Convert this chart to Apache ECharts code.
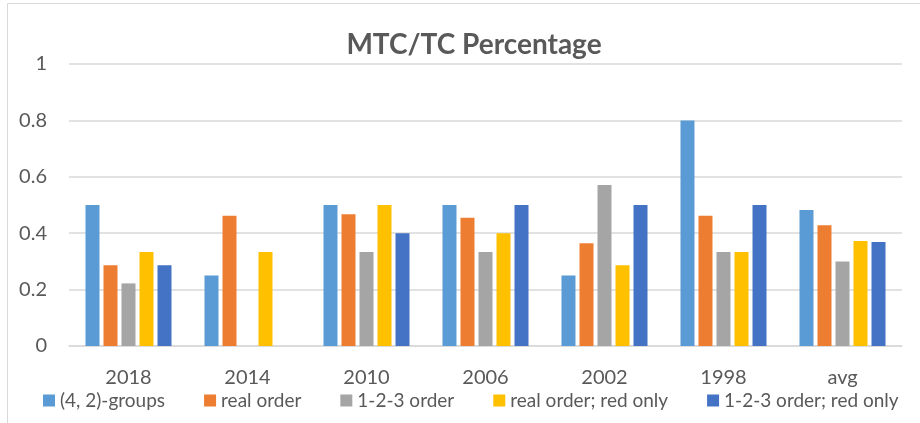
<!DOCTYPE html>
<html>
<head>
<meta charset="utf-8">
<script src="https://cdn.jsdelivr.net/npm/echarts@6/dist/echarts.min.js"></script>
<style>
html,body{margin:0;padding:0;background:#fff;}
#c{width:920px;height:423px;}
</style>
</head>
<body>
<div id="c"></div>
<script>
const categories = ['2018', '2014', '2010', '2006', '2002', '1998', 'avg'];
const seriesNames = ['(4, 2)-groups', 'real order', '1-2-3 order', 'real order; red only', '1-2-3 order; red only'];
const groups42 = [0.5, 0.25, 0.5, 0.5, 0.25, 0.8, 0.482];
const realOrder = [0.286, 0.462, 0.467, 0.455, 0.364, 0.462, 0.428];
const order123 = [0.222, 0, 0.333, 0.333, 0.571, 0.333, 0.300];
const realOrderRed = [0.333, 0.333, 0.5, 0.4, 0.286, 0.333, 0.372];
const order123Red = [0.286, 0, 0.4, 0.5, 0.5, 0.5, 0.369];
const yTickLabels = ['0', '0.2', '0.4', '0.6', '0.8', '1'];
const colors = ['#5B9BD5', '#ED7D31', '#A5A5A5', '#FFC000', '#4472C4'];

const allData = [groups42, realOrder, order123, realOrderRed, order123Red];
const FONT = 'Lato, "Open Sans", sans-serif';
const chart = echarts.init(document.getElementById('c'), null, {renderer: 'canvas'});
chart.setOption({
  animation: false,
  backgroundColor: '#fff',
  color: colors,
  title: {
    text: 'MTC/TC Percentage',
    left: 469, textAlign: 'center',
    top: 26,
    textStyle: {fontFamily: FONT, fontSize: 28, fontWeight: 'bold', color: '#595959'}
  },
  graphic: [{
    type: 'rect', silent: true,
    shape: {x: 7.5, y: 3.5, width: 1200, height: 1200},
    style: {fill: 'none', stroke: '#d9d9d9', lineWidth: 1}
  }],
  legend: {
    left: 38, top: 386, width: 900,
    itemWidth: 12, itemHeight: 12, itemGap: 39,
    icon: 'rect',
    textStyle: {fontFamily: FONT, fontSize: 19, color: '#595959'},
    data: seriesNames
  },
  grid: {left: 69, right: 18, top: 64, bottom: 77},
  xAxis: {
    type: 'category', data: categories,
    axisLine: {lineStyle: {color: '#d9d9d9', width: 1.5}},
    axisTick: {show: false},
    axisLabel: {fontFamily: FONT, fontSize: 20, color: '#595959', margin: 22}
  },
  yAxis: {
    type: 'value', min: 0, max: 1, interval: 0.2,
    axisLine: {show: false}, axisTick: {show: false},
    splitLine: {lineStyle: {color: '#d9d9d9', width: 1.5}},
    axisLabel: {
      fontFamily: FONT, fontSize: 20, color: '#595959', margin: 22,
      formatter: (v) => yTickLabels[Math.round(v / 0.2)]
    }
  },
  series: allData.map((d, i) => ({
    name: seriesNames[i], type: 'bar', data: d,
    barWidth: 14, barGap: '28.6%',
    itemStyle: {color: colors[i]}
  }))
});
</script>
</body>
</html>
